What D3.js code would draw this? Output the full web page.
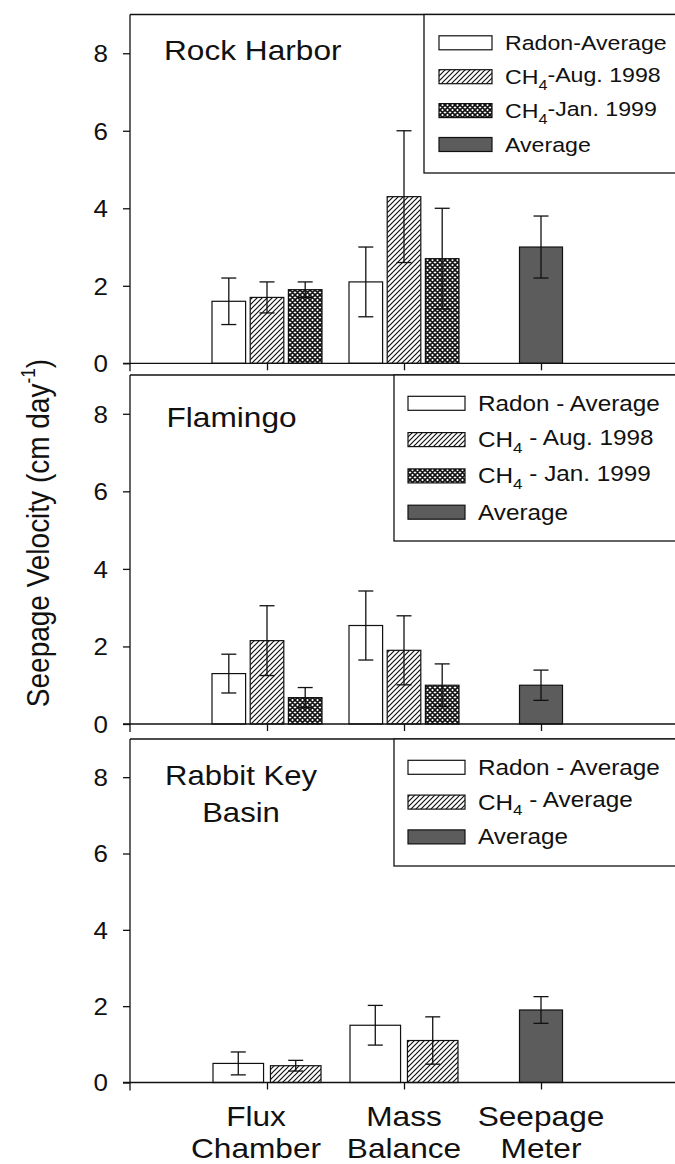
<!DOCTYPE html>
<html><head><meta charset="utf-8">
<script src="https://cdn.jsdelivr.net/npm/d3@7"></script>
<style>
html,body{margin:0;padding:0;background:#fff;}
svg{display:block;font-family:Arial,"Liberation Sans",sans-serif;}
</style></head>
<body>
<svg id="chart" width="675" height="1164"></svg>
<script>
// ---------------- DATA ----------------
const categories = ["Flux Chamber", "Mass Balance", "Seepage Meter"];
const categoryLines = [["Flux", "Chamber"], ["Mass", "Balance"], ["Seepage", "Meter"]];
const yTicks = [0, 2, 4, 6, 8];
const yAxisTitle = "Seepage Velocity (cm day";

// Rock Harbor
const rockTitle = ["Rock Harbor"];
const rockLegend = ["Radon-Average", "CH4-Aug. 1998", "CH4-Jan. 1999", "Average"];
const rockFluxValues = [1.6, 1.7, 1.9];
const rockFluxErrors = [0.6, 0.4, 0.2];
const rockMassValues = [2.1, 4.3, 2.7];
const rockMassErrors = [0.9, 1.7, 1.3];
const rockMeterValues = [3.0];
const rockMeterErrors = [0.8];

// Flamingo
const flamingoTitle = ["Flamingo"];
const flamingoLegend = ["Radon - Average", "CH4 - Aug. 1998", "CH4 - Jan. 1999", "Average"];
const flamingoFluxValues = [1.3, 2.15, 0.68];
const flamingoFluxErrors = [0.5, 0.9, 0.26];
const flamingoMassValues = [2.54, 1.9, 1.0];
const flamingoMassErrors = [0.89, 0.89, 0.55];
const flamingoMeterValues = [1.0];
const flamingoMeterErrors = [0.39];

// Rabbit Key Basin
const rabbitTitle = ["Rabbit Key", "Basin"];
const rabbitLegend = ["Radon - Average", "CH4 - Average", "Average"];
const rabbitFluxValues = [0.5, 0.44];
const rabbitFluxErrors = [0.3, 0.14];
const rabbitMassValues = [1.5, 1.1];
const rabbitMassErrors = [0.52, 0.62];
const rabbitMeterValues = [1.9];
const rabbitMeterErrors = [0.35];

// ---------------- LAYOUT / STYLE ----------------
const SX = 1.13;            // horizontal stretch of the original scan's text
const INK = "#111";
const DARK = "#5c5c5c";
const axisX = 130;
const rightX = 700;
const labelShift = [-11, 0, 0]; // category label offsets (the scan's labels sit slightly off their ticks)

const svg = d3.select("#chart");
const defs = svg.append("defs");

// hatch pattern "/"
const hatch = defs.append("pattern").attr("id", "hatch")
  .attr("patternUnits", "userSpaceOnUse").attr("width", 5).attr("height", 5);
hatch.append("rect").attr("width", 5).attr("height", 5).attr("fill", "#fff");
hatch.append("path").attr("d", "M-1,6 L6,-1 M-1,1 L1,-1 M4,6 L6,4")
  .attr("stroke", INK).attr("stroke-width", 1.2);

// cross-hatch pattern
const cross = defs.append("pattern").attr("id", "cross")
  .attr("patternUnits", "userSpaceOnUse").attr("width", 5).attr("height", 5);
cross.append("rect").attr("width", 5).attr("height", 5).attr("fill", "#fff");
cross.append("path").attr("d", "M-1,6 L6,-1 M-1,1 L1,-1 M4,6 L6,4 M-1,-1 L6,6 M-1,4 L1,6 M4,-1 L6,1")
  .attr("stroke", INK).attr("stroke-width", 1.6);

const fills = ["#fff", "url(#hatch)", "url(#cross)", DARK];

const x = d3.scalePoint().domain(categories).range([267, 541]);

function stretchedText(g, tx, ty, anchor, size) {
  return g.append("text")
    .attr("transform", `translate(${tx},${ty}) scale(${SX},1)`)
    .attr("text-anchor", anchor)
    .attr("font-size", size)
    .attr("fill", INK);
}

function labelWithSub(textSel, str) {
  const i = str.indexOf("CH4");
  if (i < 0) { textSel.text(str); return; }
  textSel.append("tspan").text(str.slice(0, i) + "CH");
  textSel.append("tspan").attr("font-size", "0.7em").attr("dy", "0.38em").text("4");
  textSel.append("tspan").attr("dy", "-0.38em").text(str.slice(i + 3));
}

function drawPanel(p) {
  const y = d3.scaleLinear().domain([0, 9]).range([p.bottom, p.top]);
  const g = svg.append("g");

  // bars
  const groups = [
    { cat: categories[0], vals: p.flux, errs: p.fluxErr, fillIdx: d3.range(p.flux.length) },
    { cat: categories[1], vals: p.mass, errs: p.massErr, fillIdx: d3.range(p.mass.length) },
    { cat: categories[2], vals: p.meter, errs: p.meterErr, fillIdx: [3] }
  ];
  groups.forEach(gr => {
    const n = gr.vals.length;
    let inner;
    if (n === 1) {
      inner = d3.scaleBand().domain([0]).range([-21.5, 21.5]).paddingInner(0);
    } else {
      const half = n === 3 ? 55 : 54;
      inner = d3.scaleBand().domain(d3.range(n)).range([-half, half]).paddingInner(0.12);
    }
    const cx = x(gr.cat);
    gr.vals.forEach((v, i) => {
      const x0 = cx + inner(i);
      g.append("rect")
        .attr("x", x0).attr("width", inner.bandwidth())
        .attr("y", y(v)).attr("height", y(0) - y(v))
        .attr("fill", fills[gr.fillIdx[i]])
        .attr("stroke", INK).attr("stroke-width", 1.2);
    });
    gr.vals.forEach((v, i) => {
      const xm = cx + inner(i) + inner.bandwidth() / 2;
      const e = gr.errs[i];
      const lo = y(v - e), hi = y(v + e);
      g.append("line").attr("x1", xm).attr("x2", xm).attr("y1", lo).attr("y2", hi)
        .attr("stroke", INK).attr("stroke-width", 1.3);
      [lo, hi].forEach(yy => g.append("line")
        .attr("x1", xm - 7.5).attr("x2", xm + 7.5).attr("y1", yy).attr("y2", yy)
        .attr("stroke", INK).attr("stroke-width", 1.3));
    });
  });

  // frame top line
  g.append("line").attr("x1", axisX).attr("x2", rightX).attr("y1", p.top).attr("y2", p.top)
    .attr("stroke", INK).attr("stroke-width", 1.3);
  // y axis line
  g.append("line").attr("x1", axisX).attr("x2", axisX).attr("y1", p.top).attr("y2", p.bottom + 8)
    .attr("stroke", INK).attr("stroke-width", 1.3);
  // zero line
  g.append("line").attr("x1", axisX - 7).attr("x2", rightX).attr("y1", p.bottom).attr("y2", p.bottom)
    .attr("stroke", INK).attr("stroke-width", 1.3);

  // y axis ticks + labels
  const ya = g.append("g").attr("transform", `translate(${axisX},0)`)
    .call(d3.axisLeft(y).tickValues(yTicks).tickSize(7).tickPadding(12.5).tickFormat(d3.format("d")));
  ya.select(".domain").remove();
  ya.selectAll(".tick line").attr("stroke", INK).attr("stroke-width", 1.3);
  ya.selectAll(".tick text")
    .attr("font-size", 23).attr("font-family", "Arial, 'Liberation Sans', sans-serif")
    .attr("fill", INK).attr("dy", "0.36em")
    .attr("transform", `scale(${SX},1)`);

  // x axis ticks
  const xa = g.append("g").attr("transform", `translate(0,${p.bottom})`)
    .call(d3.axisBottom(x).tickSize(7).tickFormat(""));
  xa.select(".domain").remove();
  xa.selectAll(".tick line").attr("stroke", INK).attr("stroke-width", 1.3);

  // legend
  const lg = g.append("g");
  lg.append("rect").attr("x", p.legX).attr("y", p.top)
    .attr("width", rightX - p.legX).attr("height", p.legH)
    .attr("fill", "#fff").attr("stroke", INK).attr("stroke-width", 1.3);
  p.legend.forEach((lab, i) => {
    const cy = p.top + 28.3 + i * p.legPitch;
    const fi = (i === p.legend.length - 1) ? 3 : i;
    lg.append("rect").attr("x", p.swX).attr("y", cy - 7).attr("width", p.swW).attr("height", 14)
      .attr("fill", fills[fi]).attr("stroke", INK).attr("stroke-width", 1.2);
    const t = stretchedText(lg, p.txtX, cy + 7.5, "start", p.legFont);
    labelWithSub(t, lab);
  });

  // title
  p.title.forEach((line, i) => {
    stretchedText(g, p.titleX, p.top + p.titleY + i * 36.5, p.titleAnchor, p.titleFont).text(line);
  });
}

drawPanel({
  top: 14.5, bottom: 363.3, title: rockTitle, titleX: 164, titleY: 45.5, titleAnchor: "start", titleFont: 28,
  legend: rockLegend, legX: 424, legH: 158.5, legPitch: 33.9, swX: 439, swW: 53, txtX: 505, legFont: 20.5,
  flux: rockFluxValues, fluxErr: rockFluxErrors, mass: rockMassValues, massErr: rockMassErrors,
  meter: rockMeterValues, meterErr: rockMeterErrors
});
drawPanel({
  top: 375, bottom: 724, title: flamingoTitle, titleX: 166.5, titleY: 52, titleAnchor: "start", titleFont: 28,
  legend: flamingoLegend, legX: 394, legH: 166, legPitch: 36.3, swX: 408, swW: 57, txtX: 478, legFont: 21.5,
  flux: flamingoFluxValues, fluxErr: flamingoFluxErrors, mass: flamingoMassValues, massErr: flamingoMassErrors,
  meter: flamingoMeterValues, meterErr: flamingoMeterErrors
});
drawPanel({
  top: 739, bottom: 1082.5, title: rabbitTitle, titleX: 241, titleY: 46, titleAnchor: "middle", titleFont: 27.5,
  legend: rabbitLegend, legX: 394, legH: 127, legPitch: 34.8, swX: 408, swW: 57, txtX: 478, legFont: 21.5,
  flux: rabbitFluxValues, fluxErr: rabbitFluxErrors, mass: rabbitMassValues, massErr: rabbitMassErrors,
  meter: rabbitMeterValues, meterErr: rabbitMeterErrors
});

// category labels
categories.forEach((c, i) => {
  categoryLines[i].forEach((line, j) => {
    stretchedText(svg, x(c) + labelShift[i], 1126 + j * 31.5, "middle", 28).text(line);
  });
});

// y axis title
const yt = svg.append("text")
  .attr("transform", `translate(49,533) scale(${SX},1) rotate(-90)`)
  .attr("text-anchor", "middle").attr("font-size", 28).attr("fill", INK);
yt.append("tspan").text(yAxisTitle);
yt.append("tspan").attr("font-size", "0.62em").attr("dy", "-0.7em").text("-1");
yt.append("tspan").attr("dy", "0.43em").text(")");
</script>
</body></html>
